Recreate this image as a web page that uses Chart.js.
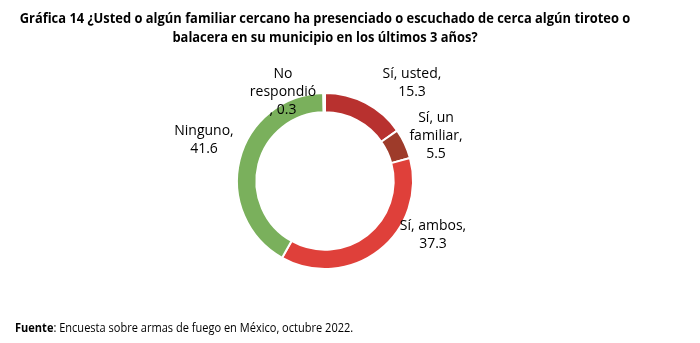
<!DOCTYPE html>
<html>
<head>
<meta charset="utf-8">
<script src="https://cdn.jsdelivr.net/npm/chart.js@4"></script>
<style>
  html, body { margin: 0; padding: 0; background: #fff; }
  #wrap { position: relative; width: 700px; height: 343px; font-family: "Open Sans", sans-serif; }
  #title { position: absolute; top: 9px; left: 0; width: 650px; text-align: center; white-space: nowrap; font-weight: bold; font-size: 13.5px; line-height: 19px; color: #000; transform-origin: center center; transform: scaleX(0.955); }
  #source { position: absolute; top: 319px; left: 15px; font-size: 12px; color: #000; white-space: nowrap; transform-origin: left center; transform: scaleX(0.92); }
  canvas { position: absolute; left: 0; top: 0; }
</style>
</head>
<body>
<div id="wrap">
  <canvas id="donut" width="700" height="343"></canvas>
  <div id="title">Gráfica 14 ¿Usted o algún familiar cercano ha presenciado o escuchado de cerca algún tiroteo o<br>balacera en su municipio en los últimos 3 años?</div>
  <div id="source"><b>Fuente</b>: Encuesta sobre armas de fuego en México, octubre 2022.</div>
</div>
<script>
// Datos
const categories = ['Sí, usted', 'Sí, un familiar', 'Sí, ambos', 'Ninguno', 'No respondió'];
const values = [15.3, 5.5, 37.3, 41.6, 0.3];
const colors = ['#B8312F', '#9E3B2A', '#DF403A', '#7AB05C', '#D9D9D9'];

// Etiquetas en varias líneas como en el original
const labelLines = [
    ['Sí, usted,', '15.3'],
    ['Sí, un', 'familiar,', '5.5'],
    ['Sí, ambos,', '37.3'],
    ['Ninguno,', '41.6'],
    ['No', 'respondió', ', 0.3']
];
// desplazamiento del centro de cada etiqueta respecto al centro del anillo (px)
const labelOffsets = [
    { dx: 87, dy: -98 },
    { dx: 111, dy: -45 },
    { dx: 108, dy: 54 },
    { dx: -121, dy: -41 },
    { dx: -42, dy: -89 }
];

const donutLabels = {
    id: 'donutLabels',
    afterDraw(chart) {
        const ctx = chart.ctx;
        const arc = chart.getDatasetMeta(0).data[0];
        const cx = arc.x, cy = arc.y;
        const lineH = 18;
        ctx.save();
        ctx.font = '14px "Open Sans", sans-serif';
        ctx.fillStyle = '#000';
        ctx.textAlign = 'center';
        ctx.textBaseline = 'middle';
        labelLines.forEach((lines, i) => {
            const x = cx + labelOffsets[i].dx;
            const y0 = cy + labelOffsets[i].dy - (lines.length - 1) * lineH / 2;
            lines.forEach((t, j) => ctx.fillText(t, x, y0 + j * lineH));
        });
        ctx.restore();
    }
};

new Chart(document.getElementById('donut').getContext('2d'), {
    type: 'doughnut',
    data: {
        labels: categories,
        datasets: [{
            data: values,
            backgroundColor: colors,
            borderColor: '#fff',
            borderWidth: 2
        }]
    },
    options: {
        responsive: false,
        animation: false,
        cutout: '78%',
        layout: { padding: { left: 236, right: 286, top: 92, bottom: 73 } },
        plugins: { legend: { display: false }, tooltip: { enabled: false } }
    },
    plugins: [donutLabels]
});
</script>
</body>
</html>
